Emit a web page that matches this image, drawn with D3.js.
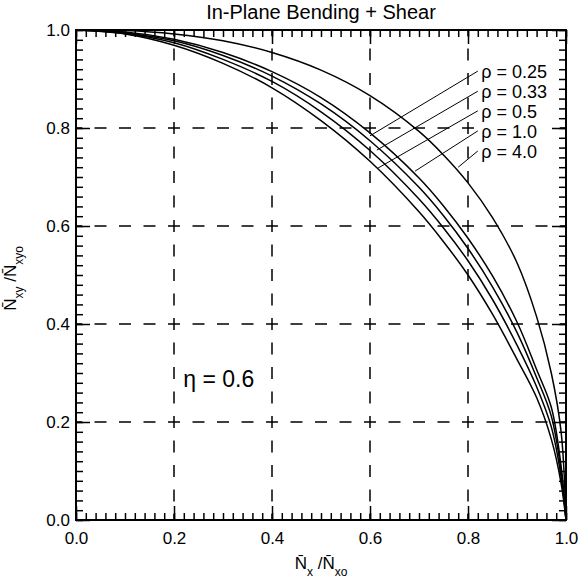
<!DOCTYPE html>
<html>
<head>
<meta charset="utf-8">
<script src="https://cdn.jsdelivr.net/npm/d3@7"></script>
<style>
  body { margin: 0; background: #fff; }
  text { font-family: "Liberation Sans", Arial, sans-serif; fill: #000; }
</style>
</head>
<body>
<svg id="chart"></svg>
<script>
// Axis ticks
const majorTicks = [0, 0.2, 0.4, 0.6, 0.8, 1.0];
const gridTicks = [0.2, 0.4, 0.6, 0.8];

// Curves (x = Nx/Nxo, y = Nxy/Nxyo)
const nx = [0, 0.1, 0.2, 0.3, 0.4, 0.5, 0.6, 0.7, 0.75, 0.8, 0.85, 0.9, 0.94, 0.97, 0.99, 1];
const rho025 = [1, 0.992, 0.969, 0.932, 0.882, 0.815, 0.732, 0.629, 0.568, 0.50, 0.42, 0.328, 0.25, 0.165, 0.075, 0];
const rho033 = [1, 0.993, 0.974, 0.940, 0.895, 0.833, 0.754, 0.655, 0.596, 0.529, 0.45, 0.357, 0.272, 0.19, 0.088, 0];
const rho05  = [1, 0.994, 0.978, 0.948, 0.906, 0.849, 0.774, 0.679, 0.621, 0.554, 0.476, 0.383, 0.291, 0.212, 0.10, 0];
const rho10  = [1, 0.996, 0.981, 0.954, 0.915, 0.862, 0.79, 0.698, 0.641, 0.575, 0.498, 0.404, 0.307, 0.23, 0.11, 0];
const rho40  = [1, 0.999, 0.992, 0.978, 0.954, 0.918, 0.866, 0.793, 0.745, 0.688, 0.617, 0.525, 0.415, 0.30, 0.18, 0];

// Curve labels and their leader lines (data coords)
const labelNames = ["ρ = 0.25", "ρ = 0.33", "ρ = 0.5", "ρ = 1.0", "ρ = 4.0"];
const labelY = [0.914, 0.873, 0.833, 0.792, 0.751];
const labelX = 0.827;
const leaderStartX = 0.82;
const leaderEndX = [0.60, 0.614, 0.616, 0.692, 0.78];
const leaderEndY = [0.784, 0.755, 0.718, 0.712, 0.72];

const W = 578, H = 585;
const margin = {top: 30, left: 76};
const size = 490;

const x = d3.scaleLinear().domain([0, 1]).range([margin.left, margin.left + size]);
const y = d3.scaleLinear().domain([0, 1]).range([margin.top + size, margin.top]);

const svg = d3.select("#chart").attr("width", W).attr("height", H);

// Dashed grid, dashes centred every 0.05
const dash = "12 12.5";
svg.append("g").selectAll("line").data(gridTicks).join("line")
    .attr("x1", d => x(d)).attr("x2", d => x(d))
    .attr("y1", y(0)).attr("y2", y(1))
    .attr("stroke", "#000").attr("stroke-width", 1.5)
    .attr("stroke-dasharray", dash).attr("stroke-dashoffset", 6);
svg.append("g").selectAll("line").data(gridTicks).join("line")
    .attr("y1", d => y(d)).attr("y2", d => y(d))
    .attr("x1", x(0)).attr("x2", x(1))
    .attr("stroke", "#000").attr("stroke-width", 1.5)
    .attr("stroke-dasharray", dash).attr("stroke-dashoffset", 6);

// Axes with inward ticks
const minorTicks = d3.range(0, 1.0001, 0.02);
const fmt = d3.format(".1f");

function addAxis(axis, tx, ty, labels) {
    const a = svg.append("g")
        .attr("transform", `translate(${tx},${ty})`)
        .call(axis)
        .attr("font-size", 17)
        .attr("font-family", null);
    a.select(".domain").remove();
    a.selectAll("line").attr("stroke-width", 1.5);
    if (!labels) a.selectAll("text").remove();
}

addAxis(d3.axisBottom(x).tickValues(minorTicks).tickSize(-7), 0, y(0), false);
addAxis(d3.axisTop(x).tickValues(minorTicks).tickSize(-7), 0, y(1), false);
addAxis(d3.axisLeft(y).tickValues(minorTicks).tickSize(-7), x(0), 0, false);
addAxis(d3.axisRight(y).tickValues(minorTicks).tickSize(-7), x(1), 0, false);

addAxis(d3.axisBottom(x).tickValues(majorTicks).tickSize(-14).tickPadding(12).tickFormat(fmt), 0, y(0), true);
addAxis(d3.axisTop(x).tickValues(majorTicks).tickSize(-14), 0, y(1), false);
addAxis(d3.axisLeft(y).tickValues(majorTicks).tickSize(-14).tickPadding(6).tickFormat(fmt), x(0), 0, true);
addAxis(d3.axisRight(y).tickValues(majorTicks).tickSize(-14), x(1), 0, false);

// Frame
svg.append("rect")
    .attr("x", x(0)).attr("y", y(1))
    .attr("width", x(1) - x(0)).attr("height", y(0) - y(1))
    .attr("fill", "none").attr("stroke", "#000").attr("stroke-width", 2);

// White boxes behind the curve labels
svg.append("g").selectAll("rect").data(labelY).join("rect")
    .attr("x", x(labelX) - 2).attr("y", d => y(d) - 10)
    .attr("width", 72).attr("height", 19)
    .attr("fill", "#fff");

// Curves
const series = [rho025, rho033, rho05, rho10, rho40]
    .map(ys => nx.map((v, i) => [v, ys[i]]));

const line = d3.line()
    .x(d => x(d[0])).y(d => y(d[1]))
    .curve(d3.curveCatmullRom.alpha(0.5));

svg.append("g").selectAll("path").data(series).join("path")
    .attr("d", line)
    .attr("fill", "none").attr("stroke", "#000").attr("stroke-width", 1.5);

// Leaders
svg.append("g").selectAll("line").data(labelY).join("line")
    .attr("x1", x(leaderStartX)).attr("y1", d => y(d) - 1)
    .attr("x2", (d, i) => x(leaderEndX[i])).attr("y2", (d, i) => y(leaderEndY[i]))
    .attr("stroke", "#000").attr("stroke-width", 1);

// Curve labels
svg.append("g").selectAll("text").data(labelNames).join("text")
    .attr("x", x(labelX)).attr("y", (d, i) => y(labelY[i]) + 6)
    .attr("font-size", 18)
    .text(d => d);

// eta label
svg.append("text")
    .attr("x", x(0.219)).attr("y", y(0.271))
    .attr("font-size", 23)
    .text("η = 0.6");

// Title
svg.append("text")
    .attr("x", (x(0) + x(1)) / 2).attr("y", 19)
    .attr("text-anchor", "middle")
    .attr("font-size", 20)
    .text("In-Plane Bending +  Shear");

// X axis label
const xl = svg.append("text")
    .attr("x", (x(0) + x(1)) / 2).attr("y", 569)
    .attr("text-anchor", "middle")
    .attr("font-size", 17);
xl.append("tspan").text("N\u0304");
xl.append("tspan").attr("font-size", 12).attr("dy", 7).text("x");
xl.append("tspan").attr("dy", -7).text(" /");
xl.append("tspan").text("N\u0304");
xl.append("tspan").attr("font-size", 12).attr("dy", 7).text("xo");

// Y axis label
const yl = svg.append("text")
    .attr("transform", `translate(16,${y(0.493)}) rotate(-90)`)
    .attr("text-anchor", "middle")
    .attr("font-size", 17);
yl.append("tspan").text("N\u0304");
yl.append("tspan").attr("font-size", 12).attr("dy", 7).text("xy");
yl.append("tspan").attr("dy", -7).text(" /");
yl.append("tspan").text("N\u0304");
yl.append("tspan").attr("font-size", 12).attr("dy", 7).text("xyo");
</script>
</body>
</html>
